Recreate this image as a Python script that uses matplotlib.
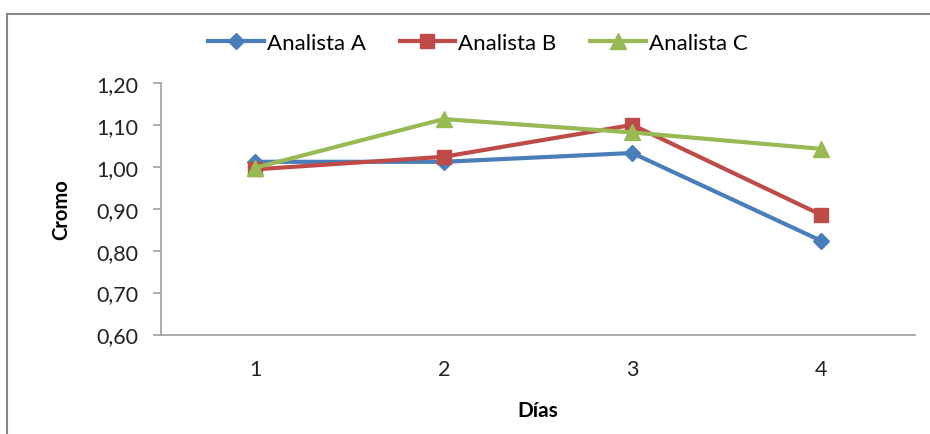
import matplotlib
matplotlib.use("Agg")
import matplotlib.pyplot as plt
from matplotlib.lines import Line2D

plt.rcParams['font.family'] = ['Lato', 'DejaVu Sans']

dias = [1, 2, 3, 4]
analista_a = [1.012, 1.012, 1.033, 0.824]
analista_b = [0.994, 1.024, 1.100, 0.886]
analista_c = [0.998, 1.114, 1.082, 1.043]
series_names = ["Analista A", "Analista B", "Analista C"]
y_ticks = [0.60, 0.70, 0.80, 0.90, 1.00, 1.10, 1.20]

colors = ["#4A7EBB", "#BE4B48", "#98B954"]
markers = ["D", "s", "^"]
msizes = [8.5, 10, 11]

fig = plt.figure(figsize=(9.3, 4.35), dpi=100)
ax = fig.add_axes([161 / 930, 1 - 335.5 / 435, (915 - 161) / 930, (335.5 - 84) / 435])

for vals, name, c, m, ms in zip([analista_a, analista_b, analista_c], series_names,
                                colors, markers, msizes):
    ax.plot(dias, vals, color=c, lw=3.0, marker=m, markersize=ms,
            markeredgecolor=c, markerfacecolor=c, label=name, solid_joinstyle='round')

ax.set_xlim(0.5, 4.5)
ax.set_ylim(0.60, 1.20)
ax.set_xticks(dias)
ax.set_xticklabels([str(d) for d in dias])
ax.set_yticks(y_ticks)
ax.set_yticklabels([f"{v:.2f}".replace(".", ",") for v in y_ticks])

for side in ("top", "right"):
    ax.spines[side].set_visible(False)
for side in ("left", "bottom"):
    ax.spines[side].set_color("#A0A0A0")
    ax.spines[side].set_linewidth(1.2)

ax.tick_params(axis="y", length=6, color="#A0A0A0", width=1.2, labelsize=15.5,
               labelcolor="#222222", pad=10)
ax.tick_params(axis="x", length=0, labelsize=15.5, labelcolor="#222222", pad=18)

ax.set_xlabel("Días", fontsize=15, fontweight="bold", labelpad=15)
ax.set_ylabel("Cromo", fontsize=14.5, fontweight="bold", labelpad=18)

handles = [Line2D([0], [0], color=c, lw=3.0, marker=m, markersize=ms,
                  markeredgecolor=c, markerfacecolor=c)
           for c, m, ms in zip(colors, markers, msizes)]
fig.legend(handles, series_names, loc="center", bbox_to_anchor=(478 / 930, 1 - 44 / 435),
           ncol=3, frameon=False, fontsize=16, handlelength=2.5, handletextpad=0.15,
           columnspacing=1.5)

# outer frame: top and left edges
fig.add_artist(Line2D([7 / 930, 1.0], [1 - 15 / 435, 1 - 15 / 435], transform=fig.transFigure,
                      color="#888888", lw=1.5))
fig.add_artist(Line2D([7 / 930, 7 / 930], [0.0, 1 - 15 / 435], transform=fig.transFigure,
                      color="#888888", lw=1.5))

fig.savefig("out.png", dpi=100)
